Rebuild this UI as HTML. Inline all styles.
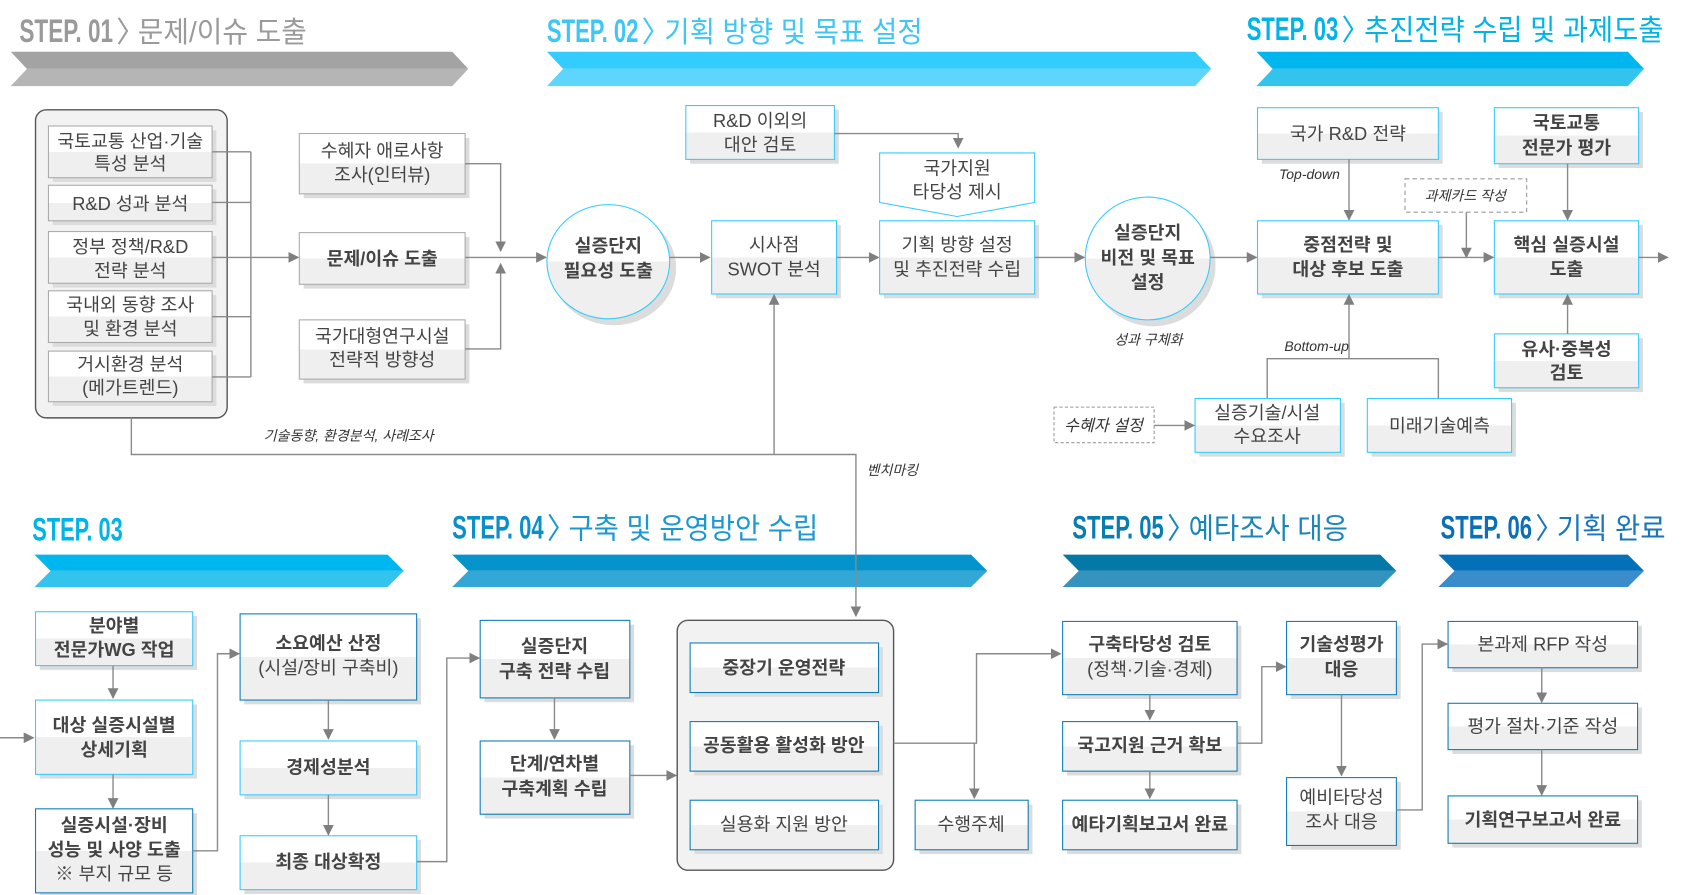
<!DOCTYPE html>
<html><head><meta charset="utf-8"><style>
html,body{margin:0;padding:0;background:#fff;}
svg{display:block;}
text{font-family:"Liberation Sans","Noto Sans CJK KR",sans-serif;fill:#444;}
.t{font-size:17px;text-anchor:middle;}
.b{font-weight:bold;}
.i{font-style:italic;font-size:13px;fill:#333;}
.hd{font-family:"Liberation Sans Narrow","Liberation Sans",sans-serif;font-weight:bold;font-size:30px;}
.hk{font-family:"Liberation Sans","Noto Sans CJK KR",sans-serif;font-size:27px;}
.ln{stroke:#8a8a8a;stroke-width:1.3;fill:none;}
</style></head><body>
<svg width="1686" height="895" viewBox="0 0 1566 831" preserveAspectRatio="none" xmlns="http://www.w3.org/2000/svg">
<defs>
<linearGradient id="g" x1="0" y1="0" x2="0" y2="1"><stop offset="0" stop-color="#fff"/><stop offset="0.5" stop-color="#fff"/><stop offset="0.5" stop-color="#efefef"/><stop offset="1" stop-color="#efefef"/></linearGradient>
<marker id="a" markerWidth="10" markerHeight="10" refX="9" refY="5" orient="auto" markerUnits="userSpaceOnUse"><path d="M0,0 L10,5 L0,10 Z" fill="#7f7f7f"/></marker>
</defs>

<!-- headers -->
<g style="fill:#9a9a9a">
<text class="hd" x="18" y="39" textLength="87" lengthAdjust="spacingAndGlyphs" style="fill:#9a9a9a">STEP. 01</text>
<text class="hk" x="108" y="39" style="fill:#9a9a9a">〉</text>
<text class="hk" x="128" y="39" textLength="157" lengthAdjust="spacingAndGlyphs" style="fill:#9a9a9a">문제/이슈 도출</text>
</g>
<polygon points="10,48 420,48 435,64 25,64" fill="#a3a3a3"/><polygon points="25,64 435,64 420,80 10,80" fill="#b5b5b5"/>

<text class="hd" x="508" y="39" textLength="85" lengthAdjust="spacingAndGlyphs" style="fill:#3fc6f5">STEP. 02</text>
<text class="hk" x="596" y="39" style="fill:#3fc6f5">〉</text>
<text class="hk" x="617" y="39" textLength="240" lengthAdjust="spacingAndGlyphs" style="fill:#3fc6f5">기획 방향 및 목표 설정</text>
<polygon points="508,48 1110,48 1125,64 523,64" fill="#33ccff"/><polygon points="523,64 1125,64 1110,80 508,80" fill="#5dd5fc"/>

<text class="hd" x="1158" y="37" textLength="85" lengthAdjust="spacingAndGlyphs" style="fill:#00b4e8">STEP. 03</text>
<text class="hk" x="1246" y="37" style="fill:#00b4e8">〉</text>
<text class="hk" x="1267" y="37" textLength="278" lengthAdjust="spacingAndGlyphs" style="fill:#00b4e8">추진전략 수립 및 과제도출</text>
<polygon points="1167,48 1512,48 1527,64 1182,64" fill="#00b6ee"/><polygon points="1182,64 1527,64 1512,80 1167,80" fill="#33c4ee"/>

<text class="hd" x="30" y="502" textLength="84" lengthAdjust="spacingAndGlyphs" style="fill:#00b4e8">STEP. 03</text>
<polygon points="32,515 360,515 375,530 47,530" fill="#00b6ee"/><polygon points="47,530 375,530 360,545 32,545" fill="#33c4ee"/>

<text class="hd" x="420" y="500" textLength="85" lengthAdjust="spacingAndGlyphs" style="fill:#0a8fc9">STEP. 04</text>
<text class="hk" x="508" y="500" style="fill:#1a98d0">〉</text>
<text class="hk" x="528" y="500" textLength="232" lengthAdjust="spacingAndGlyphs" style="fill:#1a98d0">구축 및 운영방안 수립</text>
<polygon points="420,515 902,515 917,530 435,530" fill="#0593cc"/><polygon points="435,530 917,530 902,545 420,545" fill="#33a7d6"/>

<text class="hd" x="996" y="500" textLength="85" lengthAdjust="spacingAndGlyphs" style="fill:#0a7db0">STEP. 05</text>
<text class="hk" x="1084" y="500" style="fill:#1a85b8">〉</text>
<text class="hk" x="1104" y="500" textLength="148" lengthAdjust="spacingAndGlyphs" style="fill:#1a85b8">예타조사 대응</text>
<polygon points="987,515 1282,515 1297,530 1002,530" fill="#0479a8"/><polygon points="1002,530 1297,530 1282,545 987,545" fill="#3494be"/>

<text class="hd" x="1338" y="500" textLength="85" lengthAdjust="spacingAndGlyphs" style="fill:#0a6fb5">STEP. 06</text>
<text class="hk" x="1426" y="500" style="fill:#1a75ba">〉</text>
<text class="hk" x="1446" y="500" textLength="101" lengthAdjust="spacingAndGlyphs" style="fill:#1a75ba">기획 완료</text>
<polygon points="1336,515 1512,515 1527,530 1351,530" fill="#0370b8"/><polygon points="1351,530 1527,530 1512,545 1336,545" fill="#3b8ccb"/>

<!-- STEP 1 container -->
<rect x="33" y="102" width="178" height="286" rx="10" fill="#f2f2f2" stroke="#555" stroke-width="1.3"/>
<g>
<rect x="49" y="121" width="152" height="48" fill="#dcdcdc"/><rect x="45" y="117" width="152" height="48" fill="url(#g)" stroke="#aaa"/>
<text class="t" x="121" y="137">국토교통 산업·기술</text><text class="t" x="121" y="158">특성 분석</text>
<rect x="49" y="176" width="152" height="33" fill="#dcdcdc"/><rect x="45" y="172" width="152" height="33" fill="url(#g)" stroke="#aaa"/>
<text class="t" x="121" y="195">R&amp;D 성과 분석</text>
<rect x="49" y="219" width="152" height="48" fill="#dcdcdc"/><rect x="45" y="215" width="152" height="48" fill="url(#g)" stroke="#aaa"/>
<text class="t" x="121" y="235">정부 정책/R&amp;D</text><text class="t" x="121" y="257">전략 분석</text>
<rect x="49" y="274" width="152" height="48" fill="#dcdcdc"/><rect x="45" y="270" width="152" height="48" fill="url(#g)" stroke="#aaa"/>
<text class="t" x="121" y="289">국내외 동향 조사</text><text class="t" x="121" y="311">및 환경 분석</text>
<rect x="49" y="330" width="152" height="47" fill="#dcdcdc"/><rect x="45" y="326" width="152" height="47" fill="url(#g)" stroke="#aaa"/>
<text class="t" x="121" y="344">거시환경 분석</text><text class="t" x="121" y="366">(메가트렌드)</text>
</g>
<path class="ln" d="M197,141 H233 M197,188 H233 M197,239 H233 M197,294 H233 M197,350 H233 M233,141 V350"/>
<path class="ln" d="M233,239 H277" marker-end="url(#a)"/>

<rect x="282" y="128" width="154" height="56" fill="#dcdcdc"/><rect x="278" y="124" width="154" height="56" fill="url(#g)" stroke="#aaa"/>
<text class="t" x="355" y="146">수혜자 애로사항</text><text class="t" x="355" y="168">조사(인터뷰)</text>
<rect x="282" y="220" width="154" height="48" fill="#dcdcdc"/><rect x="278" y="216" width="154" height="48" fill="url(#g)" stroke="#aaa"/>
<text class="t b" x="355" y="246">문제/이슈 도출</text>
<rect x="282" y="301" width="154" height="55" fill="#dcdcdc"/><rect x="278" y="297" width="154" height="55" fill="url(#g)" stroke="#aaa"/>
<text class="t" x="355" y="318">국가대형연구시설</text><text class="t" x="355" y="340">전략적 방향성</text>
<path class="ln" d="M432,152 H465 V233" marker-end="url(#a)"/>
<path class="ln" d="M432,324 H465 V245" marker-end="url(#a)"/>
<path class="ln" d="M432,239 H507" marker-end="url(#a)"/>

<!-- circle 1 -->
<ellipse cx="570" cy="249" rx="58" ry="53" fill="#dcdcdc"/>
<ellipse cx="565" cy="243" rx="57" ry="53" fill="url(#g)" stroke="#33ccff"/>
<text class="t b" x="565" y="234">실증단지</text><text class="t b" x="565" y="257">필요성 도출</text>
<path class="ln" d="M622,239 H659" marker-end="url(#a)"/>

<rect x="665" y="209" width="116" height="68" fill="#dcdcdc"/><rect x="661" y="205" width="116" height="68" fill="url(#g)" stroke="#33ccff"/>
<text class="t" x="719" y="233">시사점</text><text class="t" x="719" y="256">SWOT 분석</text>

<rect x="641" y="102" width="138" height="50" fill="#dcdcdc"/><rect x="637" y="98" width="138" height="50" fill="url(#g)" stroke="#33ccff"/>
<text class="t" x="706" y="118">R&amp;D 이외의</text><text class="t" x="706" y="140">대안 검토</text>
<path class="ln" d="M775,124 H890 V137" marker-end="url(#a)"/>

<polygon points="817,142 961,142 961,188 889,201 817,188" fill="#fff" stroke="#33ccff"/>
<text class="t" x="889" y="162">국가지원</text><text class="t" x="889" y="184">타당성 제시</text>

<path class="ln" d="M777,239 H816" marker-end="url(#a)"/>
<rect x="821" y="209" width="144" height="68" fill="#dcdcdc"/><rect x="817" y="205" width="144" height="68" fill="url(#g)" stroke="#33ccff"/>
<text class="t" x="889" y="233">기획 방향 설정</text><text class="t" x="889" y="256">및 추진전략 수립</text>
<path class="ln" d="M961,239 H1007" marker-end="url(#a)"/>

<ellipse cx="1071" cy="246" rx="58" ry="57" fill="#dcdcdc"/>
<ellipse cx="1066" cy="240" rx="58" ry="57" fill="url(#g)" stroke="#33ccff"/>
<text class="t b" x="1066" y="222">실증단지</text><text class="t b" x="1066" y="245">비전 및 목표</text><text class="t b" x="1066" y="268">설정</text>
<text class="i" x="1035" y="320">성과 구체화</text>
<path class="ln" d="M1124,239 H1167" marker-end="url(#a)"/>

<rect x="1172" y="209" width="168" height="68" fill="#dcdcdc"/><rect x="1168" y="205" width="168" height="68" fill="url(#g)" stroke="#33ccff"/>
<text class="t b" x="1252" y="233">중점전략 및</text><text class="t b" x="1252" y="256">대상 후보 도출</text>

<rect x="1172" y="104" width="168" height="48" fill="#dcdcdc"/><rect x="1168" y="100" width="168" height="48" fill="url(#g)" stroke="#33ccff"/>
<text class="t" x="1252" y="130">국가 R&amp;D 전략</text>
<path class="ln" d="M1253,148 V204" marker-end="url(#a)"/>
<text class="i" x="1188" y="166">Top-down</text>

<rect x="1305" y="166" width="113" height="31" fill="#fff" stroke="#999" stroke-dasharray="4,3"/>
<text class="i" x="1361" y="186" text-anchor="middle">과제카드 작성</text>
<path class="ln" d="M1362,197 V239" marker-end="url(#a)"/>
<path class="ln" d="M1336,239 H1387" marker-end="url(#a)"/>

<rect x="1392" y="104" width="134" height="52" fill="#dcdcdc"/><rect x="1388" y="100" width="134" height="52" fill="url(#g)" stroke="#33ccff"/>
<text class="t b" x="1455" y="120">국토교통</text><text class="t b" x="1455" y="143">전문가 평가</text>
<path class="ln" d="M1456,152 V204" marker-end="url(#a)"/>

<rect x="1392" y="209" width="134" height="68" fill="#dcdcdc"/><rect x="1388" y="205" width="134" height="68" fill="url(#g)" stroke="#33ccff"/>
<text class="t b" x="1455" y="233">핵심 실증시설</text><text class="t b" x="1455" y="256">도출</text>
<path class="ln" d="M1522,239 H1549" marker-end="url(#a)"/>

<rect x="1392" y="314" width="134" height="50" fill="#dcdcdc"/><rect x="1388" y="310" width="134" height="50" fill="url(#g)" stroke="#33ccff"/>
<text class="t b" x="1455" y="330">유사·중복성</text><text class="t b" x="1455" y="352">검토</text>
<path class="ln" d="M1456,310 V274" marker-end="url(#a)"/>

<path class="ln" d="M1253,333 V274" marker-end="url(#a)"/>
<path class="ln" d="M1177,370 V333 H1336 V370"/>
<text class="i" x="1193" y="326">Bottom-up</text>

<rect x="979" y="378" width="93" height="33" fill="#fff" stroke="#999" stroke-dasharray="3,2"/>
<text class="i" x="1025" y="400" text-anchor="middle" style="font-size:15px">수혜자 설정</text>
<path class="ln" d="M1072,395 H1109" marker-end="url(#a)"/>
<rect x="1114" y="374" width="135" height="50" fill="#dcdcdc"/><rect x="1110" y="370" width="135" height="50" fill="url(#g)" stroke="#33ccff"/>
<text class="t" x="1177" y="389">실증기술/시설</text><text class="t" x="1177" y="411">수요조사</text>
<rect x="1274" y="374" width="134" height="50" fill="#dcdcdc"/><rect x="1270" y="370" width="134" height="50" fill="url(#g)" stroke="#33ccff"/>
<text class="t" x="1337" y="401">미래기술예측</text>

<!-- long connector -->
<path class="ln" d="M122,388 V422 H795 V572" marker-end="url(#a)"/>
<path class="ln" d="M719,422 V274" marker-end="url(#a)"/>
<text class="i" x="245" y="409">기술동향, 환경분석, 사례조사</text>
<text class="i" x="805" y="441">벤치마킹</text>

<!-- bottom STEP 03 -->
<rect x="37" y="572" width="146" height="50" fill="#dcdcdc"/><rect x="33" y="568" width="146" height="50" fill="url(#g)" stroke="#33ccff"/>
<text class="t b" x="106" y="587">분야별</text><text class="t b" x="106" y="609">전문가WG 작업</text>
<path class="ln" d="M105,618 V648" marker-end="url(#a)"/>
<path class="ln" d="M0,685 H31" marker-end="url(#a)"/>
<rect x="37" y="654" width="146" height="69" fill="#dcdcdc"/><rect x="33" y="650" width="146" height="69" fill="url(#g)" stroke="#33ccff"/>
<text class="t b" x="106" y="679">대상 실증시설별</text><text class="t b" x="106" y="702">상세기획</text>
<path class="ln" d="M105,719 V750" marker-end="url(#a)"/>
<rect x="37" y="755" width="146" height="78" fill="#dcdcdc"/><rect x="33" y="751" width="146" height="78" fill="url(#g)" stroke="#0a7db8"/>
<text class="t b" x="106" y="772">실증시설·장비</text><text class="t b" x="106" y="795">성능 및 사양 도출</text><text class="t" x="106" y="817">※ 부지 규모 등</text>
<path class="ln" d="M179,790 H202 V607 H222" marker-end="url(#a)"/>

<rect x="227" y="574" width="164" height="80" fill="#dcdcdc"/><rect x="223" y="570" width="164" height="80" fill="url(#g)" stroke="#0a7db8"/>
<text class="t b" x="305" y="603">소요예산 산정</text><text class="t" x="305" y="626">(시설/장비 구축비)</text>
<path class="ln" d="M305,650 V686" marker-end="url(#a)"/>
<rect x="227" y="692" width="164" height="50" fill="#dcdcdc"/><rect x="223" y="688" width="164" height="50" fill="url(#g)" stroke="#33ccff"/>
<text class="t b" x="305" y="718">경제성분석</text>
<path class="ln" d="M305,738 V775" marker-end="url(#a)"/>
<rect x="227" y="780" width="164" height="50" fill="#dcdcdc"/><rect x="223" y="776" width="164" height="50" fill="url(#g)" stroke="#33ccff"/>
<text class="t b" x="305" y="806">최종 대상확정</text>
<path class="ln" d="M387,800 H415 V611 H445" marker-end="url(#a)"/>

<!-- STEP 04 -->
<rect x="450" y="580" width="139" height="72" fill="#dcdcdc"/><rect x="446" y="576" width="139" height="72" fill="url(#g)" stroke="#0a7db8"/>
<text class="t b" x="515" y="606">실증단지</text><text class="t b" x="515" y="629">구축 전략 수립</text>
<path class="ln" d="M515,648 V686" marker-end="url(#a)"/>
<rect x="450" y="692" width="139" height="68" fill="#dcdcdc"/><rect x="446" y="688" width="139" height="68" fill="url(#g)" stroke="#0a7db8"/>
<text class="t b" x="515" y="715">단계/연차별</text><text class="t b" x="515" y="738">구축계획 수립</text>
<path class="ln" d="M585,720 H628" marker-end="url(#a)"/>

<rect x="629" y="576" width="201" height="232" rx="10" fill="#f2f2f2" stroke="#555" stroke-width="1.3"/>
<rect x="645" y="601" width="175" height="46" fill="#dcdcdc"/><rect x="641" y="597" width="175" height="46" fill="url(#g)" stroke="#0a7db8"/>
<text class="t b" x="728" y="626">중장기 운영전략</text>
<rect x="645" y="674" width="175" height="46" fill="#dcdcdc"/><rect x="641" y="670" width="175" height="46" fill="url(#g)" stroke="#0a7db8"/>
<text class="t b" x="728" y="698">공동활용 활성화 방안</text>
<rect x="645" y="747" width="175" height="46" fill="#dcdcdc"/><rect x="641" y="743" width="175" height="46" fill="url(#g)" stroke="#0a7db8"/>
<text class="t" x="728" y="771">실용화 지원 방안</text>

<path class="ln" d="M830,690 H907 V607 H985" marker-end="url(#a)"/>
<path class="ln" d="M905,690 V741" marker-end="url(#a)"/>
<rect x="854" y="747" width="105" height="46" fill="#dcdcdc"/><rect x="850" y="743" width="105" height="46" fill="url(#g)" stroke="#0a7db8"/>
<text class="t" x="902" y="771">수행주체</text>

<!-- STEP 05 -->
<rect x="991" y="581" width="162" height="68" fill="#dcdcdc"/><rect x="987" y="577" width="162" height="68" fill="url(#g)" stroke="#0a7db8"/>
<text class="t b" x="1068" y="604">구축타당성 검토</text><text class="t" x="1068" y="627">(정책·기술·경제)</text>
<path class="ln" d="M1068,645 V668" marker-end="url(#a)"/>
<rect x="991" y="674" width="162" height="46" fill="#dcdcdc"/><rect x="987" y="670" width="162" height="46" fill="url(#g)" stroke="#0a7db8"/>
<text class="t b" x="1068" y="698">국고지원 근거 확보</text>
<path class="ln" d="M1068,716 V741" marker-end="url(#a)"/>
<rect x="991" y="747" width="162" height="46" fill="#dcdcdc"/><rect x="987" y="743" width="162" height="46" fill="url(#g)" stroke="#0a7db8"/>
<text class="t b" x="1068" y="771">예타기획보고서 완료</text>
<path class="ln" d="M1149,690 H1172 V619 H1194" marker-end="url(#a)"/>

<rect x="1199" y="581" width="102" height="68" fill="#dcdcdc"/><rect x="1195" y="577" width="102" height="68" fill="url(#g)" stroke="#0a7db8"/>
<text class="t b" x="1246" y="604">기술성평가</text><text class="t b" x="1246" y="627">대응</text>
<path class="ln" d="M1246,645 V720" marker-end="url(#a)"/>
<rect x="1199" y="726" width="102" height="63" fill="#dcdcdc"/><rect x="1195" y="722" width="102" height="63" fill="url(#g)" stroke="#0a7db8"/>
<text class="t" x="1246" y="746">예비타당성</text><text class="t" x="1246" y="769">조사 대응</text>
<path class="ln" d="M1297,752 H1321 V598 H1344" marker-end="url(#a)"/>

<!-- STEP 06 -->
<rect x="1349" y="581" width="176" height="43" fill="#dcdcdc"/><rect x="1345" y="577" width="176" height="43" fill="url(#g)" stroke="#0a7db8"/>
<text class="t" x="1433" y="604">본과제 RFP 작성</text>
<path class="ln" d="M1432,620 V652" marker-end="url(#a)"/>
<rect x="1349" y="657" width="176" height="43" fill="#dcdcdc"/><rect x="1345" y="653" width="176" height="43" fill="url(#g)" stroke="#0a7db8"/>
<text class="t" x="1433" y="680">평가 절차·기준 작성</text>
<path class="ln" d="M1432,696 V738" marker-end="url(#a)"/>
<rect x="1349" y="743" width="176" height="44" fill="#dcdcdc"/><rect x="1345" y="739" width="176" height="44" fill="url(#g)" stroke="#0a7db8"/>
<text class="t b" x="1433" y="767">기획연구보고서 완료</text>
</svg>
</body></html>
